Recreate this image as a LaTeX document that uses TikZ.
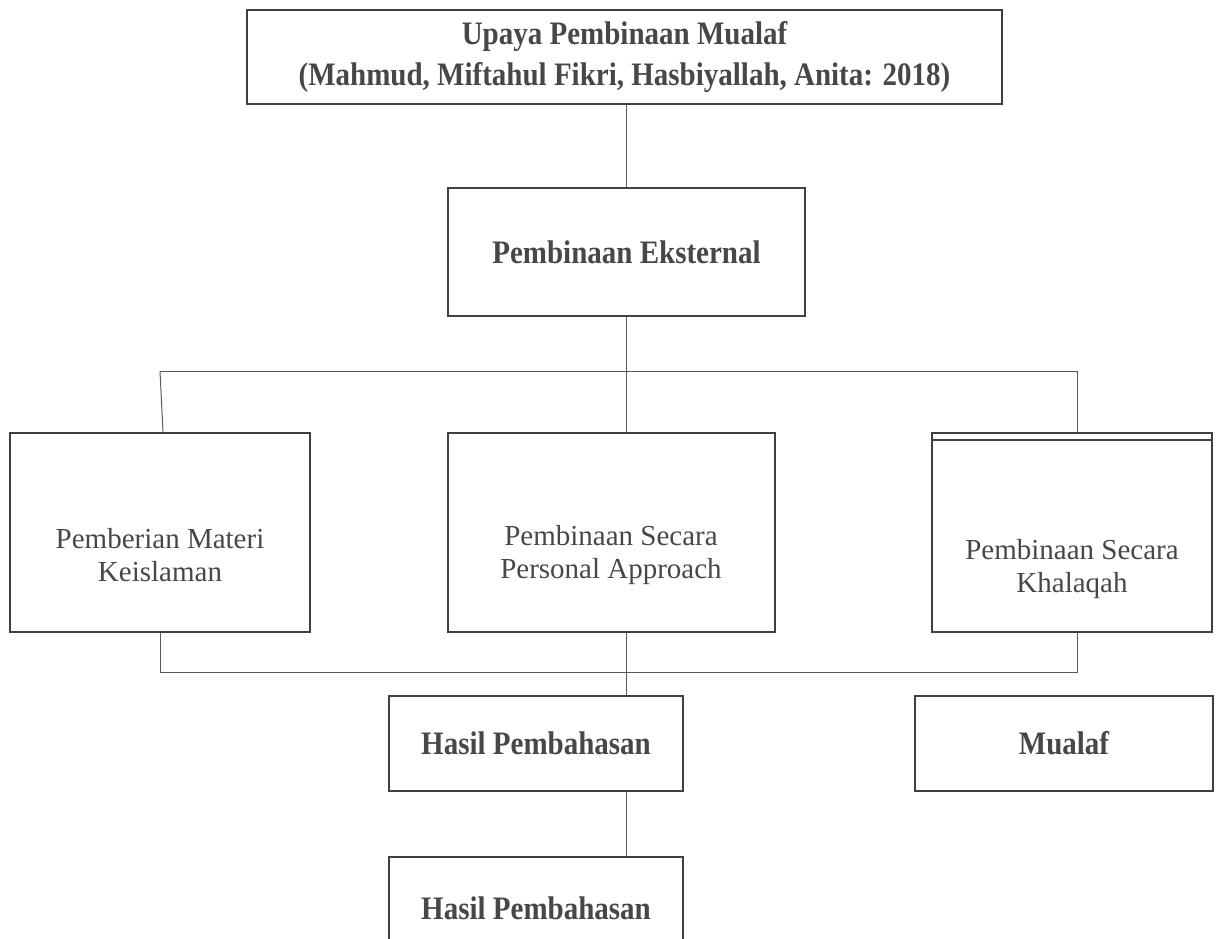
\documentclass[tikz,border=0pt]{standalone}
\usepackage{fontspec}
\setmainfont{Liberation Serif}
\usetikzlibrary{positioning, calc}

\definecolor{boxgray}{HTML}{404040}
\definecolor{textgray}{HTML}{474747}
\definecolor{linegray}{HTML}{5A5A5A}

\tikzset{
    box/.style={draw=boxgray, line width=2.5pt, minimum width=#1, inner sep=0pt},
    txt/.style={text=textgray, align=center, font=\fontsize{29}{33}\selectfont},
    btxt/.style={txt, font=\fontsize{29}{37}\selectfont\bfseries, yscale=1.13, transform shape},
    conn/.style={draw=linegray, line width=1pt}
}

\begin{document}
\begin{tikzpicture}[x=1pt, y=-1pt]
    \useasboundingbox (0,0) rectangle (1229,938);
    \clip (0,0) rectangle (1229,938);
    % Boxes
    \node[box=755pt, minimum height=94pt] (top) at (624.5,57) {};
    \node[box=357pt, minimum height=128pt] (ekst) at (626.5,252) {};
    \node[box=300pt, minimum height=199pt] (materi) at (160,532.5) {};
    \node[box=327pt, minimum height=199pt] (personal) at (611.5,532.5) {};
    \node[box=280pt, minimum height=199pt] (khalaqah) at (1072,532.5) {};
    \draw[draw=boxgray, line width=2.5pt] ([yshift=-8pt]khalaqah.north west) -- ([yshift=-8pt]khalaqah.north east);
    \node[box=294pt, minimum height=95pt] (hasil) at (536,743.5) {};
    \node[box=298pt, minimum height=95pt] (mualaf) at (1064,743.5) {};
    \node[box=294pt, minimum height=103pt] (hasilb) at (536,908.5) {};
    % Texts
    \node[btxt] (top-t) at (top.center) {Upaya Pembinaan Mualaf\\(Mahmud, Miftahul Fikri, Hasbiyallah, Anita: 2018)};
    \node[btxt] (ekst-t) at (ekst.center) {Pembinaan Eksternal};
    \node[txt] (materi-t) at (160,555.5) {Pemberian Materi\\Keislaman};
    \node[txt] (personal-t) at (611,555.5) {Pembinaan Secara\\Personal Approach};
    \node[txt] (khalaqah-t) at (1072,569) {Pembinaan Secara\\Khalaqah};
    \node[btxt] (hasil-t) at (hasil.center) {Hasil Pembahasan};
    \node[btxt] (mualaf-t) at (mualaf.center) {Mualaf};
    \node[btxt] (hasilb-t) at (hasilb.center) {Hasil Pembahasan};
    % Junctions
    \coordinate (jt) at (626,371);
    \coordinate (jl) at (160,371);
    \coordinate (jr) at (1077,371);
    \coordinate (bl) at (160,672);
    \coordinate (br) at (1077,672);
    \coordinate (bm) at (626,672);
    % Connectors
    \draw[conn] (jt |- top.south) -- (jt |- ekst.north);
    \draw[conn] (jt |- ekst.south) -- (jt);
    \draw[conn] (jl) -- (jr);
    \draw[conn] (jl) -- ([xshift=3pt]jl |- materi.north);
    \draw[conn] (jt) -- (jt |- personal.north);
    \draw[conn] (jr) -- (jr |- khalaqah.north);
    \draw[conn] (bl |- materi.south) -- (bl) -- (br) -- (br |- khalaqah.south);
    \draw[conn] (bm |- personal.south) -- (bm |- hasil.north);
    \draw[conn] (bm |- hasil.south) -- (bm |- hasilb.north);
\end{tikzpicture}
\end{document}
